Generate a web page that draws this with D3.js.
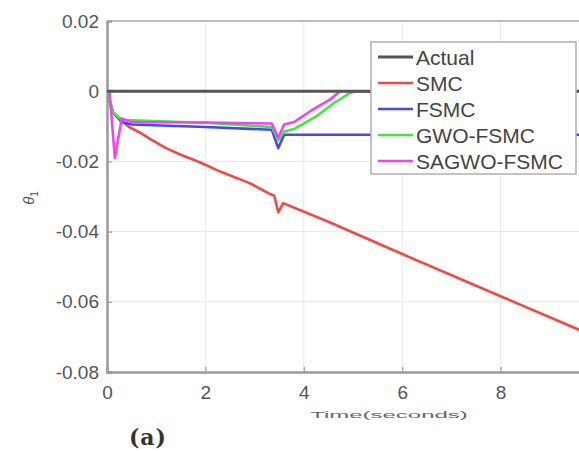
<!DOCTYPE html>
<html>
<head>
<meta charset="utf-8">
<script src="https://cdn.jsdelivr.net/npm/d3@7"></script>
<style>
  body { margin: 0; background: #fff; }
  svg { display: block; font-family: Arial, "Liberation Sans", sans-serif; }
</style>
</head>
<body>
<svg id="chart" width="579" height="451"></svg>
<script>
// ----------------------------
// Data
// ----------------------------
const xTicks = [0, 2, 4, 6, 8];
const yTicks = [0.02, 0, -0.02, -0.04, -0.06, -0.08];
const yTickLabels = ["0.02", "0", "-0.02", "-0.04", "-0.06", "-0.08"];

const actual = [[0, 0], [10, 0]];

const smc = [[0, 0], [0.12, -0.006], [0.3, -0.0085], [0.45, -0.0102], [0.67, -0.0118],
  [0.9, -0.0138], [1.2, -0.0162], [1.5, -0.0181], [1.9, -0.0203], [2.3, -0.0229],
  [2.9, -0.0262], [3.3, -0.0292], [3.4, -0.0298], [3.48, -0.0345], [3.58, -0.0319],
  [4.5, -0.0372], [6, -0.0464], [8, -0.0584], [10, -0.0704]];

const fsmc = [[0, 0], [0.12, -0.006], [0.3, -0.0088], [0.5, -0.0095], [2, -0.0102],
  [3.35, -0.011], [3.48, -0.0162], [3.6, -0.0124], [10, -0.0124]];

const gwoFsmc = [[0, 0], [0.12, -0.006], [0.3, -0.0082], [0.5, -0.0083], [2, -0.009],
  [3.35, -0.0102], [3.48, -0.014], [3.6, -0.0115], [3.8, -0.0108], [4.26, -0.0071],
  [4.6, -0.0035], [4.94, -0.0005], [5.05, 0], [10, 0]];

const sagwoFsmc = [[0, 0], [0.05, 0], [0.16, -0.019], [0.3, -0.0078], [0.5, -0.0088],
  [2, -0.0089], [3.35, -0.0092], [3.48, -0.0132], [3.6, -0.0095], [3.8, -0.0088],
  [4.13, -0.0057], [4.53, -0.0024], [4.74, 0], [10, 0]];

const seriesNames = ["Actual", "SMC", "FSMC", "GWO-FSMC", "SAGWO-FSMC"];
const seriesData = [actual, smc, fsmc, gwoFsmc, sagwoFsmc];
const seriesColors = ["#555555", "#f24848", "#4646f2", "#44e444", "#f044f0"];

// ----------------------------
// Plotting
// ----------------------------
const svg = d3.select("#chart");
const margin = { top: 21, left: 107 };
const innerW = 492;
const innerH = 351;

const xScale = d3.scaleLinear().domain([0, 10]).range([0, innerW]);
const yScale = d3.scaleLinear().domain([-0.08, 0.02]).range([innerH, 0]);

const g = svg.append("g").attr("transform", `translate(${margin.left},${margin.top})`);

g.append("defs").append("clipPath").attr("id", "plotClip")
  .append("rect").attr("x", 0).attr("y", -2).attr("width", innerW).attr("height", innerH + 2);

// grid
g.append("g")
  .selectAll("line")
  .data(xTicks.slice(1))
  .join("line")
    .attr("x1", d => xScale(d)).attr("x2", d => xScale(d))
    .attr("y1", 0).attr("y2", innerH)
    .attr("stroke", "#e8e8e8").attr("stroke-width", 1);

g.append("g")
  .selectAll("line")
  .data(yTicks.slice(1, -1))
  .join("line")
    .attr("x1", 0).attr("x2", innerW)
    .attr("y1", d => yScale(d)).attr("y2", d => yScale(d))
    .attr("stroke", "#e8e8e8").attr("stroke-width", 1);

// axes
const xAxis = g.append("g").attr("transform", `translate(0,${innerH})`)
  .call(d3.axisBottom(xScale).tickValues(xTicks).tickFormat(d3.format("d")).tickSize(-5).tickPadding(14));
const yAxis = g.append("g")
  .call(d3.axisLeft(yScale).tickValues(yTicks).tickFormat((d, i) => yTickLabels[i]).tickSize(-5).tickPadding(8));

[xAxis, yAxis].forEach(ax => {
  ax.select(".domain").attr("stroke", "#9a9a9a").attr("stroke-width", 2.5);
  ax.selectAll(".tick line").attr("stroke", "#9a9a9a").attr("stroke-width", 1.2);
  ax.selectAll(".tick text").attr("fill", "#555").attr("font-size", 19)
    .attr("font-family", "Arial, 'Liberation Sans', sans-serif");
});

// top box line
g.append("line")
  .attr("x1", 0).attr("x2", innerW).attr("y1", 0).attr("y2", 0)
  .attr("stroke", "#a8a8a8").attr("stroke-width", 1.5);

// series
const lineGen = d3.line()
  .x(d => xScale(d[0]))
  .y(d => yScale(d[1]));

const drawOrder = [1, 2, 3, 4, 0];
const lines = g.append("g").attr("clip-path", "url(#plotClip)");
drawOrder.forEach(i => {
  lines.append("path")
    .datum(seriesData[i])
    .attr("fill", "none")
    .attr("stroke", seriesColors[i])
    .attr("stroke-width", i === 0 ? 3 : 2.6)
    .attr("stroke-linejoin", "round")
    .attr("d", lineGen);
});

// legend
const legend = svg.append("g").attr("transform", "translate(371,42)");
legend.append("rect")
  .attr("width", 205).attr("height", 132)
  .attr("fill", "#fff").attr("stroke", "#b0b0b0").attr("stroke-width", 1.5);

seriesNames.forEach((name, i) => {
  const y = 15 + i * 26;
  legend.append("line")
    .attr("x1", 7).attr("x2", 42).attr("y1", y).attr("y2", y)
    .attr("stroke", seriesColors[i]).attr("stroke-width", i === 0 ? 3 : 2.6);
  legend.append("text")
    .attr("x", 45).attr("y", y)
    .attr("dy", "0.36em")
    .attr("fill", "#444")
    .attr("font-size", 21)
    .text(name);
});

// axis labels
const yLab = svg.append("text")
  .attr("transform", "translate(34,198) rotate(-90)")
  .attr("text-anchor", "middle")
  .attr("fill", "#555")
  .attr("font-size", 15);
yLab.append("tspan").attr("font-style", "italic").text("θ");
yLab.append("tspan").attr("font-size", 10).attr("dy", 4).text("1");

svg.append("text")
  .attr("transform", "translate(389,418) scale(1,0.38)")
  .attr("text-anchor", "middle")
  .attr("fill", "#666")
  .attr("font-size", 24)
  .text("Time(seconds)");

svg.append("text")
  .attr("x", 148).attr("y", 445)
  .attr("text-anchor", "middle")
  .attr("fill", "#333")
  .attr("font-family", "'DejaVu Serif', serif")
  .attr("font-weight", "bold")
  .attr("letter-spacing", 1)
  .attr("font-size", 22)
  .text("(a)");
</script>
</body>
</html>
